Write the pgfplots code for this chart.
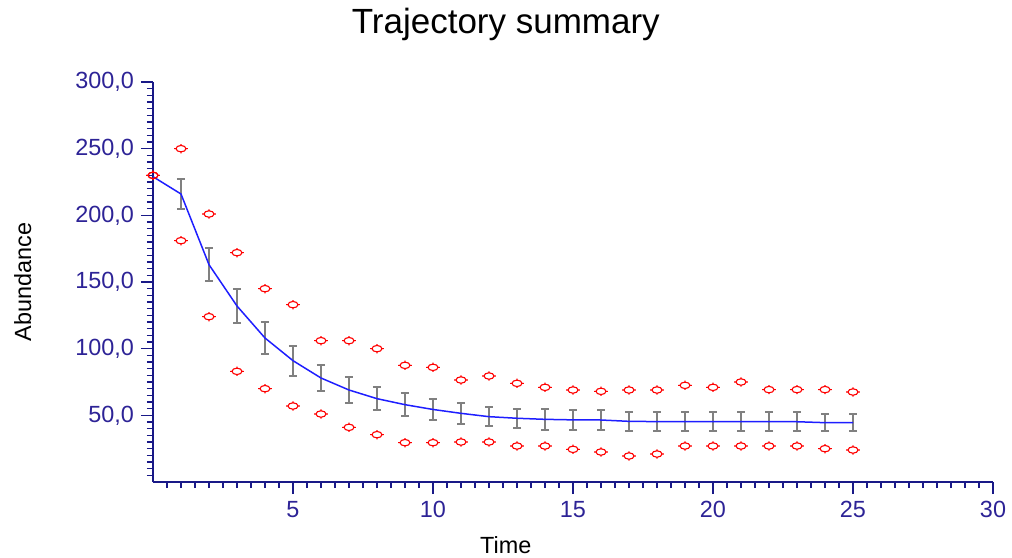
\documentclass[border=0pt]{standalone}
\usepackage{pgfplots}
\usepackage{pgfplotstable}
\usepackage{fontspec}
\setmainfont{Liberation Sans}
\pgfplotsset{compat=1.18}
\definecolor{axnavy}{RGB}{25,25,135}
\definecolor{ticklab}{RGB}{45,35,150}
\definecolor{linblue}{RGB}{30,30,255}
\definecolor{errgray}{RGB}{128,128,128}
\pgfdeclareplotmark{target}{%
  \pgfpathellipse{\pgfpointorigin}{\pgfpoint{2.5pt}{0pt}}{\pgfpoint{0pt}{1.6pt}}%
  \pgfpathmoveto{\pgfpoint{-3.4pt}{0pt}}\pgfpathlineto{\pgfpoint{-2.5pt}{0pt}}%
  \pgfpathmoveto{\pgfpoint{3.4pt}{0pt}}\pgfpathlineto{\pgfpoint{2.5pt}{0pt}}%
  \pgfpathmoveto{\pgfpoint{0pt}{1.6pt}}\pgfpathlineto{\pgfpoint{0pt}{2.3pt}}%
  \pgfpathmoveto{\pgfpoint{0pt}{-1.6pt}}\pgfpathlineto{\pgfpoint{0pt}{-2.3pt}}%
  \pgfusepathqstroke}
\pgfplotstableread{
t m e up lo
0 229 0 230 230
1 216 11.3 250 181
2 163 12.5 201 124
3 132 12.7 172 83
4 108 12 145 70
5 91 11.3 133 57
6 78 10 106 51
7 69 9.6 106 41
8 62.5 8.5 100 35.5
9 58 8.5 87.5 29.5
10 54.4 8 86 29.5
11 51.5 7.8 76.5 30
12 49 7.3 79.5 30
13 47.8 7 74 27
14 47 7.7 71 27
15 46.6 7.3 69 24.5
16 46.5 7.3 68 22.5
17 45.5 7.3 69 19.5
18 45.3 7.3 69 21
19 45.3 7.3 72.5 27
20 45.2 7 71 27
21 45.2 7 75 27
22 45.2 7 69.3 27
23 45.2 7 69.3 27
24 44.5 6.5 69.3 25
25 44.5 6.5 67.5 24
}\data
\begin{document}
\begin{tikzpicture}
\path[use as bounding box] (-76.5pt,-37.65pt) rectangle (429.5pt,241pt);
\begin{axis}[
  scale only axis, width=420pt, height=200pt,
  xmin=0, xmax=30, ymin=0, ymax=300,
  axis lines*=left,
  axis line style={axnavy, line width=1pt},
  every tick/.style={axnavy, line width=0.8pt},
  tick align=outside,
  major tick length=6pt, minor tick length=3pt,
  xtick={5,10,...,30},
  minor xtick={0.5,1,...,29.5},
  ytick={50,100,...,300},
  minor ytick={5,10,...,295},
  /pgf/number format/assume math mode=true,
  tick label style={font=\fontsize{11.7}{13}\selectfont, text=ticklab},
  yticklabel style={/pgf/number format/.cd, fixed, fixed zerofill, precision=1, use comma},
  xticklabel style={/pgf/number format/.cd, fixed, precision=0},
  title={Trajectory summary},
  every axis title shift=0pt,
  title style={at={(axis description cs:0.42,1.1225)}, anchor=base, font=\fontsize{17.5}{19}\selectfont},
  xlabel={Time},
  xlabel style={at={(axis description cs:0.42,-0.1785)}, anchor=base, font=\fontsize{11.7}{13}\selectfont},
  ylabel={Abundance},
  ylabel style={at={(axis description cs:-0.1452,0.5)}, anchor=base, rotate=0, font=\fontsize{11.7}{13}\selectfont},
  clip=false,
]
\addplot[draw=none, mark=none, restrict x to domain=1:25,
  error bars/.cd, y dir=both, y explicit,
  error bar style={errgray, line width=1pt},
  error mark options={errgray, rotate=90, mark size=2pt, line width=1pt}]
  table[x=t, y=m, y error=e] {\data};
\addplot[linblue, line width=0.75pt, mark=none] table[x=t, y=m] {\data};
\addplot[only marks, mark=target, red, line width=0.55pt] table[x=t, y=up] {\data};
\addplot[only marks, mark=target, red, line width=0.55pt] table[x=t, y=lo] {\data};
\end{axis}
\end{tikzpicture}
\end{document}
